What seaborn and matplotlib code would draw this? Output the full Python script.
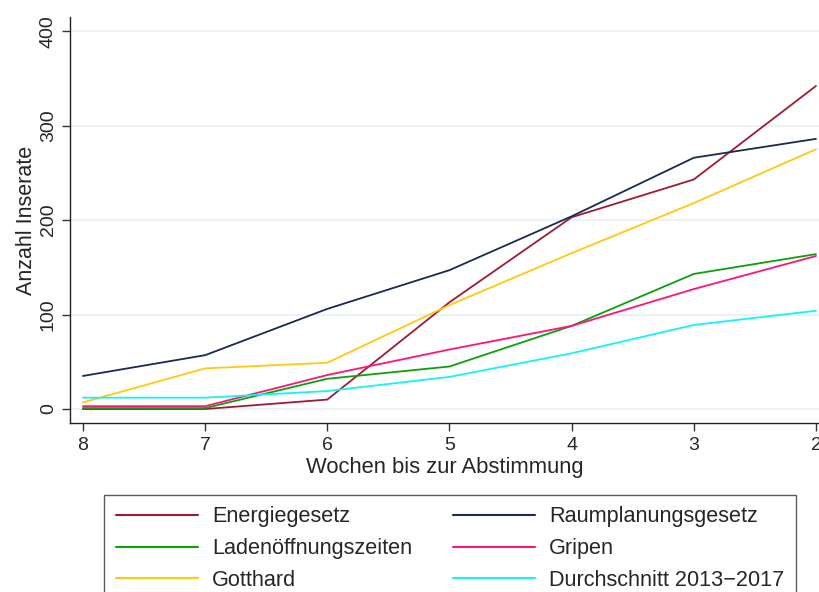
import matplotlib
matplotlib.use("Agg")
import matplotlib.pyplot as plt
import seaborn as sns
import pandas as pd

weeks = [8, 7, 6, 5, 4, 3, 2]

energiegesetz = [0, 0, 10, 113, 203, 243, 342]
raumplanung = [35, 57, 106, 147, 204, 266, 286]
ladenoeffnung = [1, 1, 32, 45, 88, 143, 164]
gripen = [3, 3, 36, 63, 88, 127, 162]
gotthard = [7, 43, 49, 110, 165, 218, 275]
durchschnitt = [12, 12, 19, 34, 59, 89, 104]

series_names = ["Energiegesetz", "Ladenöffnungszeiten", "Gotthard",
                "Raumplanungsgesetz", "Gripen", "Durchschnitt 2013\u22122017"]
series_values = [energiegesetz, ladenoeffnung, gotthard,
                 raumplanung, gripen, durchschnitt]
colors = ["#9c1c36", "#0ca00c", "#ffc90e", "#1b2a4e", "#ff1478", "#12f4f6"]

y_ticks = [0, 100, 200, 300, 400]

rows = []
for name, vals in zip(series_names, series_values):
    for w, v in zip(weeks, vals):
        rows.append({"week": w, "count": v, "series": name})
df = pd.DataFrame(rows)

sns.set_style("white")
plt.rcParams["font.family"] = ["Liberation Sans", "DejaVu Sans"]

fig = plt.figure(figsize=(8.2, 5.92), dpi=100)
ax = fig.add_axes([70 / 820, 1 - 423 / 592, 750 / 820, 406 / 592])

sns.lineplot(data=df, x="week", y="count", hue="series",
             hue_order=series_names, palette=colors, linewidth=1.3,
             ax=ax, legend=True)

ax.set_xlim(8.106, 1.967)
ax.set_ylim(-14.8, 415)
ax.set_xticks(weeks)
ax.set_yticks(y_ticks)
ax.set_yticklabels([str(t) for t in y_ticks], rotation=90, va="center")
ax.tick_params(axis="both", labelsize=14, direction="out", length=6,
               width=1, color="#333333", left=True, bottom=True)
ax.tick_params(axis="x", pad=4)
ax.grid(axis="y", color="#eaf2f3", linewidth=1.5)
ax.set_axisbelow(True)
for s in ["top", "right"]:
    ax.spines[s].set_visible(False)
for s in ["left", "bottom"]:
    ax.spines[s].set_color("#222222")
    ax.spines[s].set_linewidth(1.0)

ax.set_xlabel("Wochen bis zur Abstimmung", fontsize=15.8, labelpad=2)
ax.set_ylabel("Anzahl Inserate", fontsize=15.5, labelpad=2)

handles, labels = ax.get_legend_handles_labels()
ax.get_legend().remove()
leg = fig.legend(handles, labels, ncol=2, loc="upper left",
                 bbox_to_anchor=(104 / 820, 1 - 494.5 / 592),
                 fontsize=15.6, frameon=True, fancybox=False,
                 edgecolor="#333333", handlelength=3.8, handletextpad=0.65,
                 columnspacing=1.85, labelspacing=0.5, borderpad=0.55,
                 borderaxespad=0)
leg.get_frame().set_linewidth(1.0)
for line in leg.get_lines():
    line.set_linewidth(1.5)

fig.savefig("out.png", dpi=100)
